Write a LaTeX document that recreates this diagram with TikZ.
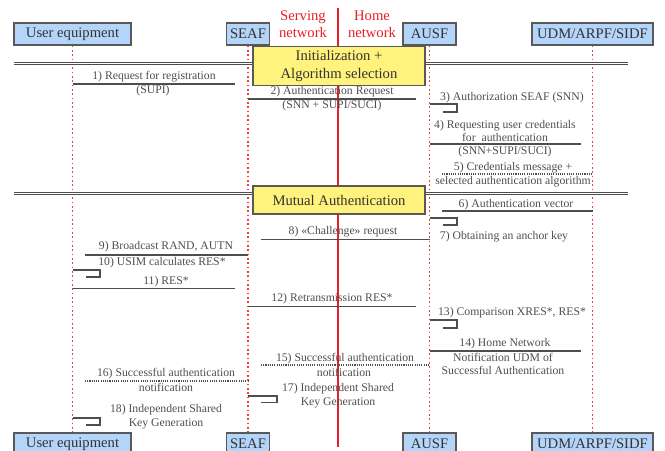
\documentclass[tikz,border=0pt]{standalone}
\usepackage{fontspec}
\setmainfont{Liberation Serif}
\usepackage{tikz}
\usetikzlibrary{positioning,calc}
\usepackage{xcolor}
\definecolor{lifeRed}{RGB}{240,60,60}
\definecolor{netRed}{RGB}{232,30,40}
\definecolor{entityBlue}{RGB}{180,212,250}
\definecolor{phaseYellow}{RGB}{255,242,125}
\definecolor{msgGray}{RGB}{78,78,78}
\tikzset{
    entity/.style={
        draw=gray!70!black,
        fill=entityBlue,
        line width=1pt,
        minimum height=0.66cm,
        inner sep=1pt,
        font=\rmfamily\fontsize{12.5}{14}\selectfont,
        text=black!80
    },
    phase/.style={
        draw=gray!70!black,
        fill=phaseYellow,
        line width=1pt,
        minimum width=5.16cm,
        align=center,
        font=\rmfamily\fontsize{12.5}{15}\selectfont,
        text=black!80
    },
    lifeline/.style={lifeRed, line width=1.5pt, dash pattern=on 1.5pt off 2.2pt},
    msg/.style={msgGray, line width=1.1pt},
    msgDotted/.style={msgGray, line width=0.9pt, densely dotted},
    lbl/.style={font=\rmfamily\fontsize{10}{11.5}\selectfont, text=msgGray, inner sep=0pt, align=center},
}

\begin{document}
\begin{tikzpicture}[x=0.03cm, y=-0.03cm,
    phaseline/.style={draw=gray!60!black, double=white, double distance=1.2pt, line width=0.9pt},
    netlabel/.style={font=\rmfamily\fontsize{12.5}{14.5}\selectfont, text=netRed, align=center, inner sep=0pt}
]
    \clip (0,0) rectangle (665,451);
    \useasboundingbox (0,0) rectangle (665,451);

    % Entities, top and bottom
    \node[entity, minimum width=3.51cm] (ue) at (72.5,34) {User equipment};
    \node[entity, minimum width=1.29cm] (seaf) at (248,34) {SEAF};
    \node[entity, minimum width=1.59cm] (ausf) at (429.5,34) {AUSF};
    \node[entity, minimum width=3.63cm] (udm) at (592.5,34) {UDM/ARPF/SIDF};
    \node[entity, minimum width=3.51cm] (ueB) at (72.5,444) {User equipment};
    \node[entity, minimum width=1.29cm] (seafB) at (248,444) {SEAF};
    \node[entity, minimum width=1.59cm] (ausfB) at (429.5,444) {AUSF};
    \node[entity, minimum width=3.63cm] (udmB) at (592.5,444) {UDM/ARPF/SIDF};

    % Lifelines
    \draw[lifeline] (ue) -- (ueB);
    \draw[lifeline] (seaf) -- (seafB);
    \draw[lifeline] (ausf) -- (ausfB);
    \draw[lifeline] (udm) -- (udmB);

    % Network border
    \draw[netRed, line width=1pt] (338,8) -- (338,447);
    \node[netlabel] (serving) at (303,24) {Serving\\network};
    \node[netlabel] (home) at (372,24) {Home\\network};

    % Phases
    \draw[phaseline] (14,63.5) -- (628,63.5);
    \node[phase, minimum height=1.08cm] (init) at (339,66) {Initialization +\\Algorithm selection};
    \draw[phaseline] (14,193.5) -- (628,193.5);
    \node[phase, minimum height=0.84cm] (mutual) at (339,200) {Mutual Authentication};

    % Initialization messages
    \draw[msg] (ue |- 0,84) -- (235,84);
    \node[lbl] at (154,77) {1) Request for registration};
    \node[lbl] at (153,91) {(SUPI)};

    \draw[msg] (seaf |- 0,99) -- (416,99);
    \node[lbl] at (332,92) {2) Authentication Request};
    \node[lbl] at (332,106) {(SNN + SUPI/SUCI)};

    \draw[msg] (ausf |- 0,104) -| (457,112) -- (443,112);
    \node[lbl] at (512,98) {3) Authorization SEAF (SNN)};

    \draw[msg] (ausf |- 0,144) -- (581,144);
    \node[lbl] at (505,131) {4) Requesting user credentials\\for\ \ authentication};
    \node[lbl] at (505,152) {(SNN+SUPI/SUCI)};

    \draw[msgDotted] (442,174) -- (udm |- 0,174);
    \node[lbl] at (513,168) {5) Credentials message +};
    \node[lbl] at (513,182) {selected authentication algorithm};

    % Mutual authentication messages
    \draw[msg] (442,211) -- (udm |- 0,211);
    \node[lbl] at (516,205) {6) Authentication vector};

    \draw[msg] (ausf |- 0,218) -| (457,225) -- (443,225);
    \node[lbl] at (504,237) {7) Obtaining an anchor key};

    \draw[msg] (261,239.5) -- (ausf |- 0,239.5);
    \node[lbl] at (343,232) {8) «Challenge» request};

    \draw[msg] (85,255) -- (seaf |- 0,255);
    \node[lbl] at (166,247) {9) Broadcast RAND, AUTN};

    \draw[msg] (ue |- 0,270) -| (100,277) -- (86,277);
    \node[lbl] at (162,263) {10) USIM calculates RES*};

    \draw[msg] (ue |- 0,288.5) -- (235,288.5);
    \node[lbl] at (166,282) {11) RES*};

    \draw[msg] (seaf |- 0,306.5) -- (416,306.5);
    \node[lbl] at (332,299) {12) Retransmission RES*};

    \draw[msg] (ausf |- 0,320) -| (457,328) -- (443,328);
    \node[lbl] at (512,313) {13) Comparison XRES*, RES*};

    \draw[msg] (ausf |- 0,351) -- (581,351);
    \node[lbl] at (505,344) {14) Home Network};
    \node[lbl] at (503,364) {Notification UDM of\\Successful Authentication};

    \draw[msgDotted] (261,365) -- (ausf |- 0,365);
    \node[lbl] at (345,359) {15) Successful authentication};
    \node[lbl] at (344,372) {notification};

    \draw[msgDotted] (85,381) -- (seaf |- 0,381);
    \node[lbl] at (166,374) {16) Successful authentication};
    \node[lbl] at (166,387) {notification};

    \draw[msg] (seaf |- 0,396) -| (277,402.5) -- (261,402.5);
    \node[lbl] at (338,395.5) {17) Independent Shared\\Key Generation};

    \draw[msg] (ue |- 0,418) -| (100,425) -- (86,425);
    \node[lbl] at (166,416.5) {18) Independent Shared\\Key Generation};

\end{tikzpicture}
\end{document}
